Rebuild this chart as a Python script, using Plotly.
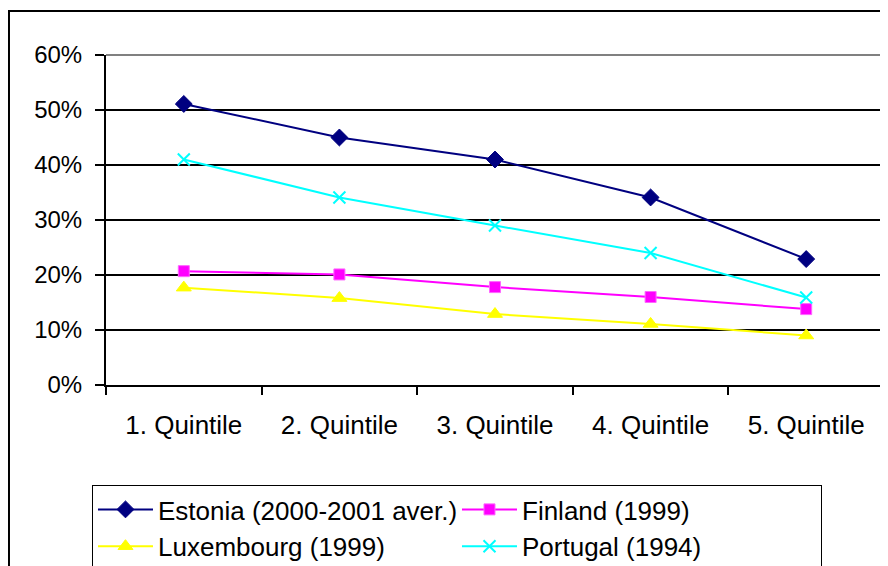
import plotly.graph_objects as go

categories = ["1. Quintile", "2. Quintile", "3. Quintile", "4. Quintile", "5. Quintile"]
estonia = [0.511, 0.450, 0.410, 0.341, 0.229]
finland = [0.207, 0.201, 0.178, 0.160, 0.138]
luxembourg = [0.177, 0.158, 0.129, 0.111, 0.090]
portugal = [0.410, 0.341, 0.290, 0.240, 0.159]

series = [
    ("Estonia (2000-2001 aver.)", estonia, "#000080", "diamond", 13, "#000080"),
    ("Finland (1999)", finland, "#FF00FF", "square", 11, "#FF66FF"),
    ("Luxembourg (1999)", luxembourg, "#FFFF00", "triangle-up", 13, "#FFFF00"),
    ("Portugal (1994)", portugal, "#00FFFF", "x-thin", 12, "#00FFFF"),
]

fig = go.Figure()
for name, vals, color, sym, size, lc in series:
    fig.add_trace(go.Scatter(
        x=categories, y=vals, name=name, mode="lines+markers",
        line=dict(color=color, width=2),
        marker=dict(symbol=sym, size=size, color=color,
                    line=dict(color=lc, width=2 if sym == "x-thin" else 1)),
    ))

fam = "Liberation Sans, Arial, sans-serif"
xfont = dict(family=fam, size=26, color="black")
yfont = dict(family=fam, size=24, color="black")
lfont = dict(family=fam, size=26, color="black")

fig.update_layout(
    width=888, height=566,
    margin=dict(l=98, r=12, t=47, b=189, autoexpand=False),
    paper_bgcolor="white", plot_bgcolor="white",
    font=xfont,
    showlegend=True,
    legend=dict(
        orientation="h", x=-0.018, y=-0.303, xanchor="left", yanchor="top",
        bordercolor="black", borderwidth=1, entrywidth=294, entrywidthmode="pixels",
        font=lfont, tracegroupgap=0, itemwidth=55,
    ),
    xaxis=dict(
        type="category", tickson="boundaries", ticks="outside", ticklen=8,
        tickcolor="black", tickwidth=2, showline=True, linecolor="black", linewidth=2,
        showgrid=False, tickfont=xfont, range=[-0.5, 4.5], ticklabelstandoff=16,
    ),
    yaxis=dict(
        range=[0, 0.6], dtick=0.1, tickformat=".0%", ticks="outside", ticklen=9,
        tickcolor="black", tickwidth=2, showline=True, linecolor="black", linewidth=2,
        showgrid=True, gridcolor="black", gridwidth=1.5, zeroline=False, tickfont=yfont,
        ticklabelstandoff=8,
    ),
    shapes=[
        dict(type="line", xref="paper", yref="paper", x0=0, x1=1, y0=1, y1=1,
             line=dict(color="#808080", width=2), layer="below"),
        dict(type="line", xref="paper", yref="paper", x0=1, x1=1, y0=0, y1=1,
             line=dict(color="#808080", width=2), layer="below"),
        dict(type="rect", xref="paper", yref="paper", x0=-0.1247, x1=1.05,
             y0=-0.7, y1=1.133, line=dict(color="black", width=2), layer="below"),
    ],
)

fig.write_html("out.html")
